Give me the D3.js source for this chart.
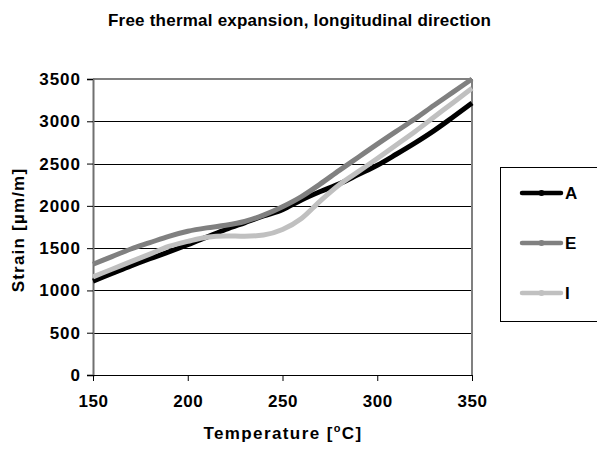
<!DOCTYPE html>
<html>
<head>
<meta charset="utf-8">
<script src="https://cdn.jsdelivr.net/npm/d3@7"></script>
<style>
  html, body { margin: 0; padding: 0; background: #fff; }
  svg { display: block; font-family: "Liberation Sans", Arial, sans-serif; font-weight: bold; }
</style>
</head>
<body>
<svg id="chart" width="597" height="451"></svg>
<script>
// Temperature steps (°C)
const temperatures = [150, 160, 170, 180, 190, 200, 210, 220, 230, 240, 250,
                      260, 270, 280, 290, 300, 310, 320, 330, 340, 350];

// Measured strain per specimen (µm/m)
const strainA = [1110, 1200, 1290, 1375, 1455, 1540, 1630, 1720, 1800, 1880, 1955,
                 2070, 2170, 2260, 2370, 2480, 2610, 2745, 2890, 3050, 3215];
const strainE = [1310, 1400, 1490, 1565, 1640, 1700, 1740, 1770, 1815, 1890, 1990,
                 2110, 2260, 2420, 2575, 2730, 2880, 3030, 3190, 3345, 3500];
const strainI = [1160, 1250, 1340, 1430, 1520, 1580, 1630, 1645, 1640, 1655, 1720,
                 1850, 2060, 2250, 2405, 2560, 2720, 2880, 3050, 3220, 3390];

const seriesNames = ["A", "E", "I"];
const seriesColors = ["#000000", "#808080", "#c0c0c0"];

const xTicks = [150, 200, 250, 300, 350];
const yTicks = [0, 500, 1000, 1500, 2000, 2500, 3000, 3500];

const titleText = "Free thermal expansion, longitudinal direction";
const xTitle = "Temperature [";
const yTitle = "Strain [µm/m]";

const svg = d3.select("#chart");
const plot = { left: 93, right: 472, top: 79, bottom: 375 };

const x = d3.scaleLinear().domain([150, 350]).range([plot.left, plot.right]);
const y = d3.scaleLinear().domain([0, 3500]).range([plot.bottom, plot.top]);

// Title
svg.append("text")
  .attr("x", 299.5).attr("y", 26)
  .attr("text-anchor", "middle")
  .attr("font-size", 17)
  .attr("textLength", 383).attr("lengthAdjust", "spacing")
  .text(titleText);

// Horizontal gridlines
svg.append("g")
  .selectAll("line")
  .data(yTicks.filter(v => v > 0 && v < 3500))
  .join("line")
  .attr("x1", plot.left).attr("x2", plot.right)
  .attr("y1", d => Math.round(y(d)) + 0.5).attr("y2", d => Math.round(y(d)) + 0.5)
  .attr("stroke", "#000").attr("stroke-width", 1);

// Plot frame: top and right edges
svg.append("line")
  .attr("x1", plot.left).attr("x2", plot.right)
  .attr("y1", y(3500)).attr("y2", y(3500))
  .attr("stroke", "#808080").attr("stroke-width", 2);
svg.append("line")
  .attr("x1", plot.right).attr("x2", plot.right)
  .attr("y1", plot.top).attr("y2", plot.bottom)
  .attr("stroke", "#808080").attr("stroke-width", 2);

// Y axis
const yAxis = svg.append("g")
  .attr("transform", `translate(${plot.left},0)`)
  .call(d3.axisLeft(y).tickValues(yTicks).tickSize(6).tickPadding(8).tickFormat(d3.format("d")));
yAxis.select(".domain").attr("stroke", "#707070").attr("stroke-width", 2);
yAxis.selectAll(".tick line").attr("stroke", "#000");
yAxis.selectAll(".tick text")
  .attr("font-size", 17).attr("font-family", "Liberation Sans, Arial, sans-serif")
  .attr("font-weight", "bold").attr("fill", "#000")
  .attr("letter-spacing", 1).attr("dx", 2);

// X axis
const xAxis = svg.append("g")
  .attr("transform", `translate(0,${plot.bottom})`)
  .call(d3.axisBottom(x).tickValues(xTicks).tickSize(6).tickPadding(14).tickFormat(d3.format("d")));
xAxis.select(".domain").attr("stroke", "#000").attr("stroke-width", 1);
xAxis.selectAll(".tick line").attr("stroke", "#000");
xAxis.selectAll(".tick text")
  .attr("font-size", 17).attr("font-family", "Liberation Sans, Arial, sans-serif")
  .attr("font-weight", "bold").attr("fill", "#000")
  .attr("letter-spacing", 0.6);

// Axis titles
const xt = svg.append("text")
  .attr("x", 283).attr("y", 439)
  .attr("text-anchor", "middle")
  .attr("font-size", 17).attr("letter-spacing", 1.4);
xt.append("tspan").text(xTitle);
xt.append("tspan").attr("font-size", 11).attr("dy", -7).text("o");
xt.append("tspan").attr("dy", 7).text("C]");

svg.append("text")
  .attr("transform", "translate(24,230) rotate(-90)")
  .attr("text-anchor", "middle")
  .attr("font-size", 17).attr("letter-spacing", 1.2)
  .text(yTitle);

// Series lines
const series = [strainA, strainE, strainI].map((vals, i) => ({
  name: seriesNames[i],
  color: seriesColors[i],
  points: temperatures.map((t, j) => ({ t, v: vals[j] }))
}));

const line = d3.line()
  .x(d => x(d.t)).y(d => y(d.v))
  .curve(d3.curveMonotoneX);

svg.append("g")
  .selectAll("path")
  .data(series)
  .join("path")
  .attr("d", d => line(d.points))
  .attr("fill", "none")
  .attr("stroke", d => d.color)
  .attr("stroke-width", 5)
  .attr("stroke-linejoin", "round");

// Legend
const legend = svg.append("g");
legend.append("rect")
  .attr("x", 500.5).attr("y", 167.5)
  .attr("width", 110).attr("height", 154)
  .attr("fill", "#fff").attr("stroke", "#000").attr("stroke-width", 1);

const items = legend.selectAll("g.item")
  .data(series)
  .join("g")
  .attr("class", "item")
  .attr("transform", (d, i) => `translate(0,${193 + i * 50})`);
items.append("line")
  .attr("x1", 522).attr("x2", 561)
  .attr("stroke", d => d.color).attr("stroke-width", 4.5)
  .attr("stroke-linecap", "round");
items.append("circle")
  .attr("cx", 541.5).attr("r", 3)
  .attr("fill", d => d.color);
items.append("text")
  .attr("x", 565).attr("y", 6)
  .attr("font-size", 17)
  .text(d => d.name);
</script>
</body>
</html>
